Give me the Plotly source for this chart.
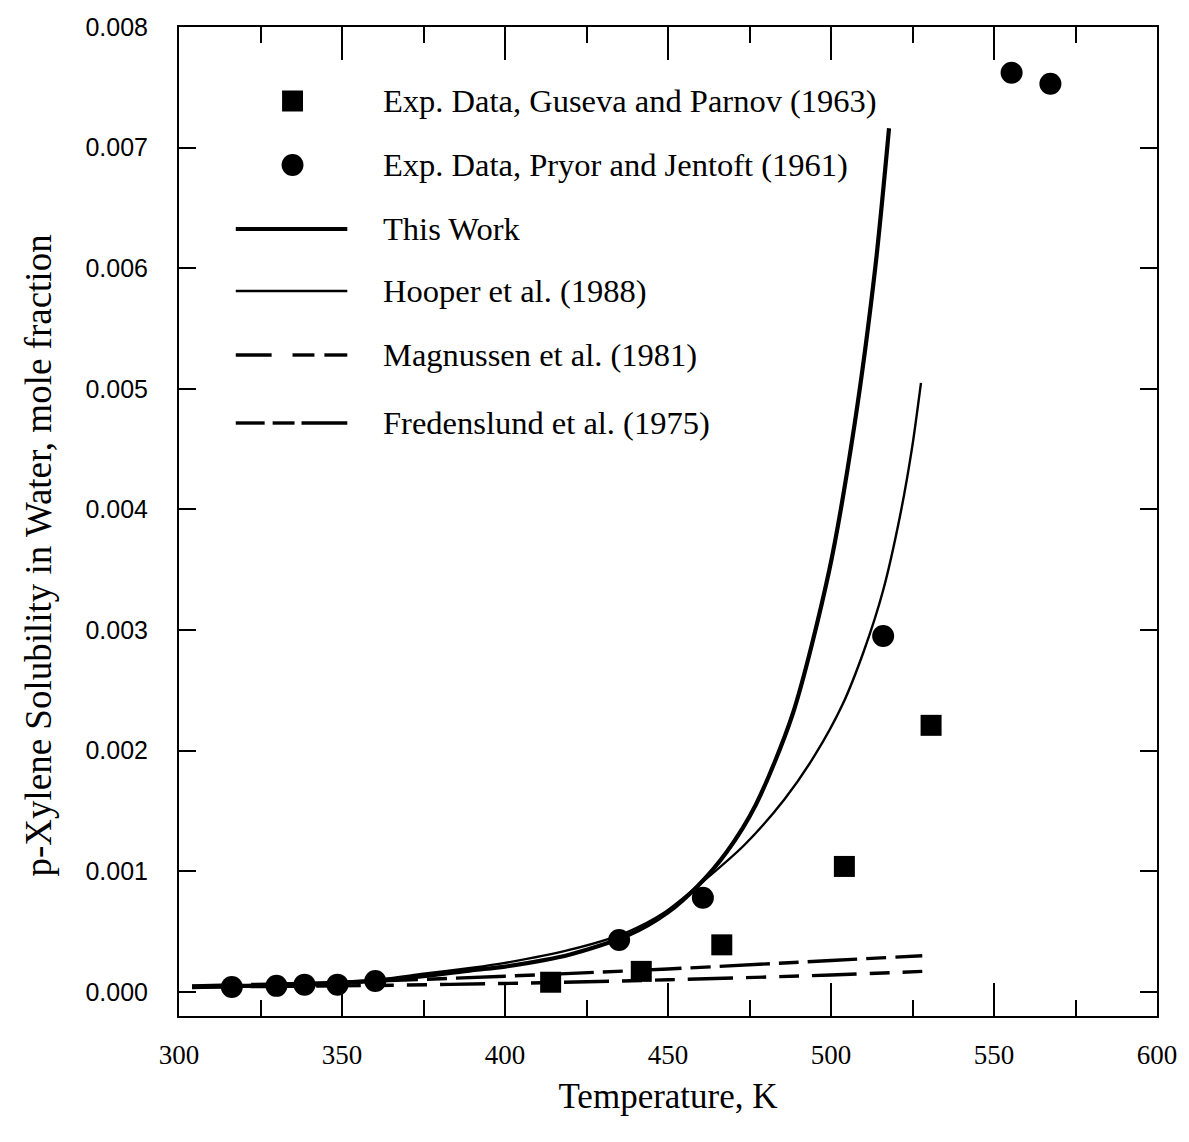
import plotly.graph_objects as go

# ---- data -------------------------------------------------------------
# Experimental solubilities (mole fraction) vs temperature (K)
guseva_T = [414.0, 441.8, 466.5, 504.1, 530.7]
guseva_x = [0.00008, 0.00017, 0.00039, 0.00104, 0.00221]

pryor_T = [316.2, 329.9, 338.5, 348.6, 360.2, 435.0, 460.7, 516.0, 555.4, 567.3]
pryor_x = [0.00004, 0.00005, 0.00006, 0.00006, 0.00009, 0.00043, 0.00078, 0.00295, 0.00762, 0.00753]

# Model curves
this_work_T = [304, 320, 340, 360, 375, 390, 400, 420, 437.8, 450, 459.2, 468, 476.9,
               488.2, 499.5, 507.2, 513.6, 517.8]
this_work_x = [0.00004, 0.00005, 0.00006, 0.00009, 0.00013, 0.00018, 0.00021, 0.00031, 0.00047,
               0.00066, 0.00088, 0.00116, 0.00155, 0.00230, 0.00350, 0.00470, 0.00601, 0.00716]

hooper_T = [304, 320, 340, 360, 375, 390, 400, 420, 437, 449, 460.1, 473.5, 485.8, 495,
            503.5, 510, 516, 521.2, 524.8, 527.6]
hooper_x = [0.00005, 0.00005, 0.00007, 0.00010, 0.00015, 0.00020, 0.00024, 0.00035, 0.00049,
            0.00066, 0.00090, 0.00122, 0.00160, 0.00196, 0.00238, 0.00282, 0.00333, 0.00395,
            0.00450, 0.00505]

magnussen_T = [304, 350, 400, 450, 500, 528]
magnussen_x = [0.00004, 0.00005, 0.00007, 0.00010, 0.00014, 0.00017]

fredenslund_T = [304, 350, 400, 450, 500, 528]
fredenslund_x = [0.00005, 0.00008, 0.00013, 0.00019, 0.00026, 0.00030]

legend_labels = [
    "Exp. Data, Guseva and Parnov (1963)",
    "Exp. Data, Pryor and Jentoft (1961)",
    "This Work",
    "Hooper et al. (1988)",
    "Magnussen et al. (1981)",
    "Fredenslund et al. (1975)",
]

x_ticks = [300, 350, 400, 450, 500, 550, 600]
y_ticks = [0.000, 0.001, 0.002, 0.003, 0.004, 0.005, 0.006, 0.007, 0.008]

# ---- figure -----------------------------------------------------------
W, H = 1189, 1142
ML, MR, MT, MB = 179, 28, 27, 126
PW, PH = W - ML - MR, H - MT - MB

SERIF = "Liberation Serif, Times New Roman, serif"
SANS = "Liberation Sans, Arial, sans-serif"

fig = go.Figure()

fig.add_trace(go.Scatter(x=fredenslund_T, y=fredenslund_x, mode="lines", line_shape="spline",
                         line=dict(color="black", width=3.4, dash="50px,9px,20px,9px")))
fig.add_trace(go.Scatter(x=magnussen_T, y=magnussen_x, mode="lines", line_shape="spline",
                         line=dict(color="black", width=3.4, dash="45px,13px,20px,13px,20px,13px")))
fig.add_trace(go.Scatter(x=hooper_T, y=hooper_x, mode="lines", line_shape="spline",
                         line=dict(color="black", width=2.4, smoothing=0.8)))
fig.add_trace(go.Scatter(x=this_work_T, y=this_work_x, mode="lines", line_shape="spline",
                         line=dict(color="black", width=4.2, smoothing=0.8)))
fig.add_trace(go.Scatter(x=guseva_T, y=guseva_x, mode="markers",
                         marker=dict(symbol="square", size=21, color="black")))
fig.add_trace(go.Scatter(x=pryor_T, y=pryor_x, mode="markers",
                         marker=dict(symbol="circle", size=22, color="black")))


def px(xp):
    return (xp - ML) / PW


def py(yp):
    return (H - MB - yp) / PH


# ---- hand-drawn key inside the plot -----------------------------------
shapes = []
row_y = [101, 165, 229, 291, 355, 423]

# square and circle symbols
sq = 10.5
shapes.append(dict(type="rect", xref="paper", yref="paper",
                   x0=px(293 - sq), x1=px(293 + sq), y0=py(row_y[0] + sq), y1=py(row_y[0] - sq),
                   fillcolor="black", line=dict(width=0)))
rc = 11
shapes.append(dict(type="circle", xref="paper", yref="paper",
                   x0=px(293 - rc), x1=px(293 + rc), y0=py(row_y[1] + rc), y1=py(row_y[1] - rc),
                   fillcolor="black", line=dict(width=0)))

key_segments = [
    (row_y[2], [(236, 348)], 4.2),
    (row_y[3], [(236, 348)], 2.4),
    (row_y[4], [(236, 272), (293, 315), (325, 348)], 3.4),
    (row_y[5], [(236, 265), (273, 295), (302, 348)], 3.4),
]
for yrow, segs, w in key_segments:
    for a, b in segs:
        shapes.append(dict(type="line", xref="paper", yref="paper",
                           x0=px(a), x1=px(b), y0=py(yrow), y1=py(yrow),
                           line=dict(color="black", width=w)))

annotations = []
for yrow, label in zip(row_y, legend_labels):
    annotations.append(dict(x=px(382), y=py(yrow), xref="paper", yref="paper",
                            text=label, showarrow=False, xanchor="left", yanchor="middle",
                            font=dict(family=SERIF, size=32.5, color="black")))

# y-axis title
annotations.append(dict(x=px(37), y=py(556), xref="paper", yref="paper",
                        text="p-Xylene Solubility in Water, mole fraction", textangle=-90,
                        showarrow=False, xanchor="center", yanchor="middle",
                        font=dict(family=SERIF, size=37, color="black")))

fig.update_layout(
    width=W, height=H,
    margin=dict(l=ML, r=MR, t=MT, b=MB),
    paper_bgcolor="white", plot_bgcolor="white",
    showlegend=False,
    shapes=shapes,
    annotations=annotations,
)

fig.update_xaxes(
    range=[300, 600], tickvals=x_ticks, ticktext=[str(v) for v in x_ticks],
    ticks="inside", ticklen=33, tickwidth=1.5, tickcolor="black",
    minor=dict(dtick=25, tick0=300, ticks="inside", ticklen=16, tickwidth=1.5, tickcolor="black"),
    showline=True, linewidth=2, linecolor="black", mirror="allticks",
    showgrid=False, zeroline=False,
    tickfont=dict(family=SERIF, size=27, color="black"),
    ticklabelstandoff=14,
    title=dict(text="Temperature, K", font=dict(family=SERIF, size=35, color="black"), standoff=14),
)
fig.update_yaxes(
    range=[-0.0002, 0.008], tickvals=y_ticks, ticktext=[f"{v:.3f}" for v in y_ticks],
    ticks="inside", ticklen=17, tickwidth=1.5, tickcolor="black",
    showline=True, linewidth=2, linecolor="black", mirror="allticks",
    showgrid=False, zeroline=False,
    tickfont=dict(family=SANS, size=25, color="black"),
    ticklabelstandoff=24,
)

fig.write_html("out.html")
